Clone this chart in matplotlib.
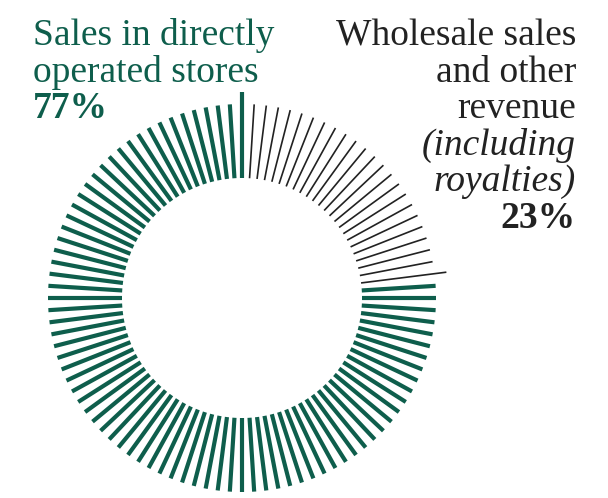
import numpy as np
import matplotlib
matplotlib.use('Agg')
import matplotlib.pyplot as plt

# share of revenue, in percent (one radial line per percent)
left_lines = ["Sales in directly", "operated stores"]
right_lines = ["Wholesale sales", "and other", "revenue"]
right_italic = ["(including", "royalties)"]
shares = [77, 23]
green = "#0e5e4c"
dark = "#222222"

fig = plt.figure(figsize=(6.08, 4.98), dpi=100)
ax = fig.add_axes([0, 0, 1, 1])
ax.set_xlim(0, 608)
ax.set_ylim(498, 0)
ax.axis('off')

cx, cy = 242, 298
r_in, r_out, r_long = 120, 194, 206
n = sum(shares)
for i in range(n):
    ang = np.deg2rad(i * 360 / n)  # clockwise from 12 o'clock
    black = 1 <= i <= shares[1]
    ro = r_long if i in (0, shares[1]) else r_out
    dx, dy = np.sin(ang), -np.cos(ang)
    ax.plot([cx + r_in * dx, cx + ro * dx], [cy + r_in * dy, cy + ro * dy],
            color=dark if black else green,
            lw=1.2 if black else 3.0, solid_capstyle='butt')

serif = ['Liberation Serif', 'DejaVu Serif']
fs = 27
pitch = 36.5
y0 = 45
for k, t in enumerate(left_lines):
    ax.text(33, y0 + k * pitch, t, color=green, fontsize=fs, family=serif,
            va='baseline', ha='left')
ax.text(33, y0 + 2 * pitch, f"{shares[0]}%", color=green, fontsize=fs,
        family=serif, weight='bold', va='baseline', ha='left')
for k, t in enumerate(right_lines):
    ax.text(576, y0 + k * pitch, t, color=dark, fontsize=fs, family=serif,
            va='baseline', ha='right')
for k, t in enumerate(right_italic):
    ax.text(576, y0 + (k + 3) * pitch, t, color=dark, fontsize=fs,
            family=serif, style='italic', va='baseline', ha='right')
ax.text(576, y0 + 5 * pitch, f"{shares[1]}%", color=dark, fontsize=fs,
        family=serif, weight='bold', va='baseline', ha='right')

fig.savefig("out.png", dpi=100)
